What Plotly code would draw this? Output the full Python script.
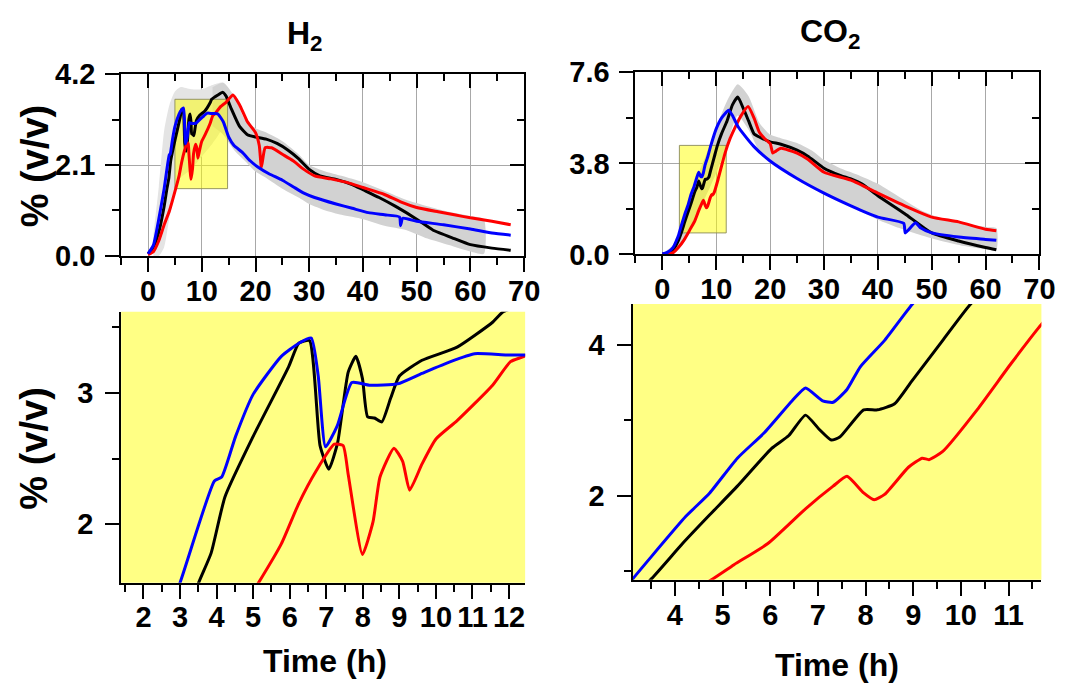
import plotly.graph_objects as go

W, H = 1084, 695

# ---------------- DATA ----------------
# H2 (% v/v) vs time (h)
h2_black_t = [0, 1, 2, 3, 3.51, 3.85, 4.23, 5.0, 5.97, 6.25, 6.54, 6.83, 7.07, 7.31, 7.6, 7.81, 7.99, 8.13, 8.32, 8.52, 8.76, 9.0, 9.62, 10.58, 11.55, 11.84, 13, 13.9, 14.5, 15.5, 17, 18.5, 20, 22, 24, 26, 28, 30, 32, 35, 38, 40, 43, 46, 50, 53, 57, 60, 64, 67.5]
h2_black_v = [0.05, 0.2, 0.55, 1.15, 1.555, 1.78, 2.21, 2.67, 3.2, 3.38, 3.4, 2.6, 2.42, 2.62, 3.16, 3.28, 3.11, 2.82, 2.81, 2.78, 2.96, 3.13, 3.25, 3.35, 3.54, 3.62, 3.72, 3.78, 3.7, 3.4, 3.0, 2.8, 2.75, 2.7, 2.6, 2.45, 2.25, 2.0, 1.85, 1.77, 1.65, 1.53, 1.35, 1.15, 0.85, 0.6, 0.4, 0.26, 0.18, 0.13]

h2_blue_t = [0, 1, 2, 3.0, 3.94, 4.14, 4.52, 5.0, 5.77, 6.25, 6.59, 6.78, 6.98, 7.3, 7.7, 8.18, 8.95, 9.62, 10.4, 11.06, 11.93, 12.4, 13, 14, 15, 16, 17.5, 19, 20.5, 22.5, 25, 27, 29, 31, 35, 38, 41, 44, 46.8, 47, 47.4, 50, 55, 60, 64, 67.5]
h2_blue_v = [0.05, 0.25, 0.85, 1.555, 2.33, 2.36, 2.67, 2.99, 3.28, 3.38, 3.42, 3.13, 2.59, 2.75, 3.08, 3.06, 3.07, 3.15, 3.24, 3.3, 3.29, 3.29, 3.28, 3.1, 2.75, 2.55, 2.4, 2.2, 2.05, 1.9, 1.75, 1.6, 1.45, 1.35, 1.2, 1.1, 1.0, 0.95, 0.9, 0.7, 0.87, 0.8, 0.72, 0.62, 0.53, 0.48]

h2_red_t = [0, 1, 2, 3, 4, 5.15, 5.77, 6.25, 6.73, 7.22, 7.46, 7.6, 7.99, 8.28, 8.47, 8.85, 9.09, 9.28, 9.62, 10.0, 10.58, 11.55, 12.04, 12.41, 13.5, 14.5, 15.8, 17, 18.5, 20, 20.7, 21.1, 21.8, 23, 25, 27, 29, 31, 34, 37, 40, 44, 47, 50, 54, 57, 60, 64, 67.5]
h2_red_v = [0.03, 0.1, 0.35, 0.72, 1.05, 1.555, 1.85, 2.16, 2.41, 2.61, 2.6, 2.38, 1.77, 2.02, 2.36, 2.58, 2.48, 2.26, 2.46, 2.65, 2.79, 3.06, 3.24, 3.28, 3.45, 3.55, 3.72, 3.5, 3.1, 2.85, 2.55, 2.05, 2.5, 2.5, 2.35, 2.2, 2.0, 1.85, 1.78, 1.7, 1.58, 1.42, 1.25, 1.12, 1.02, 0.95, 0.88, 0.8, 0.72]

# early, noisy spread of replicates (light) and later mean +/- SD band
h2_noise_t = [1, 2, 3, 4, 5, 6, 8, 10, 12, 14]
h2_noise_hi = [0.5, 1.6, 2.9, 3.5, 3.8, 3.9, 3.85, 3.85, 3.95, 4.0]
h2_noise_lo = [0.0, 0.0, 0.2, 0.9, 1.4, 1.8, 2.0, 2.3, 2.6, 3.0]
h2_band_t = [12, 14, 16, 18, 20, 22, 25, 28, 30, 33, 36, 40, 44, 48, 52, 56, 60, 62.5]
h2_band_hi = [3.9, 4.0, 3.7, 3.15, 2.95, 2.85, 2.65, 2.35, 2.1, 1.95, 1.85, 1.7, 1.5, 1.3, 1.15, 1.02, 0.92, 0.85]
h2_band_lo = [3.0, 2.8, 2.45, 2.2, 1.95, 1.8, 1.55, 1.35, 1.2, 1.05, 0.95, 0.85, 0.7, 0.6, 0.4, 0.25, 0.1, 0.05]

h2_zoom_box_t = [5.0, 14.8]
h2_zoom_box_v = [1.555, 3.62]

# CO2 (% v/v) vs time (h)
co2_black_t = [0, 1, 2, 3, 3.51, 4.16, 4.73, 5.31, 6.03, 6.39, 6.74, 7.03, 7.28, 7.46, 7.96, 8.25, 8.61, 8.97, 9.62, 10.19, 11, 12, 13, 14, 15, 16, 17, 18, 20, 22, 25, 27, 30, 33, 35, 37, 40, 45, 50, 55, 60, 62]
co2_black_v = [0.02, 0.05, 0.2, 0.6, 0.905, 1.37, 1.75, 2.13, 2.63, 2.8, 3.07, 2.88, 2.74, 2.78, 3.14, 3.14, 3.22, 3.52, 4.06, 4.53, 5.05, 5.57, 6.24, 6.57, 6.1, 5.57, 5.04, 4.9, 4.7, 4.6, 4.35, 4.1, 3.6, 3.3, 3.15, 2.95, 2.45, 1.7, 0.9, 0.56, 0.29, 0.2]

co2_blue_t = [0, 1, 2, 3, 3.12, 3.51, 4.23, 4.73, 5.31, 5.88, 6.46, 6.74, 7.1, 7.32, 7.61, 7.89, 8.4, 8.97, 10, 11, 12.3, 13, 14, 15, 17, 20, 25, 30, 35, 40, 44.8, 45.1, 47, 48, 50, 55, 60, 62]
co2_blue_v = [0.02, 0.1, 0.3, 0.8, 0.905, 1.2, 1.73, 2.04, 2.5, 2.84, 3.26, 3.43, 3.26, 3.24, 3.41, 3.71, 4.06, 4.53, 5.25, 5.7, 6.02, 5.8, 5.35, 5.04, 4.5, 3.9, 3.17, 2.56, 2.03, 1.56, 1.3, 0.9, 1.32, 1.1, 0.9, 0.73, 0.63, 0.59]

co2_red_t = [0, 1, 2, 3, 4, 4.8, 5.24, 5.95, 6.74, 7.32, 7.61, 7.96, 8.18, 8.4, 8.9, 9.19, 9.33, 9.62, 10.34, 11.05, 11.69, 12.5, 13.5, 14.5, 15.9, 17, 18, 19, 20, 20.5, 21, 22, 25, 27, 30, 35, 40, 45, 50, 55, 60, 62]
co2_red_v = [0.0, 0.02, 0.08, 0.3, 0.6, 0.905, 1.09, 1.37, 1.83, 2.13, 2.26, 2.04, 1.95, 2.02, 2.38, 2.5, 2.48, 2.59, 3.14, 3.75, 4.27, 4.8, 5.3, 5.75, 6.17, 5.7, 5.1, 4.83, 4.63, 4.23, 4.3, 4.43, 4.23, 3.97, 3.43, 3.1, 2.56, 2.03, 1.56, 1.36, 1.05, 0.99]

co2_band_t = [0, 2, 4, 6, 8, 10, 12, 14, 16, 18, 20, 22, 25, 28, 30, 33, 36, 40, 44, 48, 52, 56, 60, 62]
co2_band_hi = [0.05, 0.4, 1.6, 3.0, 4.1, 5.3, 6.4, 7.1, 6.6, 5.5, 5.0, 4.85, 4.65, 4.3, 3.95, 3.6, 3.35, 2.95, 2.4, 1.85, 1.5, 1.3, 1.15, 1.1]
co2_band_lo = [0.0, 0.0, 0.5, 1.5, 2.4, 3.4, 4.6, 5.8, 5.2, 4.3, 3.85, 3.6, 3.2, 2.75, 2.5, 2.2, 1.9, 1.45, 1.1, 0.8, 0.55, 0.35, 0.22, 0.2]

co2_zoom_box_t = [3.15, 11.85]
co2_zoom_box_v = [0.9, 4.55]

# axis ticks / labels
top_x_range = [-5, 70]
top_xticks = [0, 10, 20, 30, 40, 50, 60, 70]
h2_top_yticks = [0.0, 2.1, 4.2]
co2_top_yticks = [0.0, 3.8, 7.6]
h2_zoom_xrange = [1.39, 12.44]
h2_zoom_yrange = [1.555, 3.62]
h2_zoom_xticks = [2, 3, 4, 5, 6, 7, 8, 9, 10, 11, 12]
h2_zoom_yticks = [2, 3]
co2_zoom_xrange = [3.11, 11.69]
co2_zoom_yrange = [0.89, 4.54]
co2_zoom_xticks = [4, 5, 6, 7, 8, 9, 10, 11]
co2_zoom_yticks = [2, 4]

# ---------------- STYLE ----------------
FONT = "Liberation Sans, Arial, sans-serif"
YELLOW = "#FFFF84"
GRID = "#A8A8A8"
BAND = "#D2D2D2"
NOISE = "#E4E4E4"
LW = 3
XSTAND = -6


def dom_x(a, b):
    return [a / W, b / W]


def dom_y(top, bottom):
    return [1 - bottom / H, 1 - top / H]


def bold(vals, fmt="%g"):
    return ["<b>" + (fmt % v) + "</b>" for v in vals]


fig = go.Figure()


def add_series(xa, ya, t_b, v_b, t_r, v_r, t_u, v_u):
    for t, v, c in ((t_b, v_b, "black"), (t_r, v_r, "#FF0000"), (t_u, v_u, "#0000FF")):
        fig.add_trace(go.Scatter(x=t, y=v, mode="lines",
                                 line=dict(color=c, width=LW, shape="spline", smoothing=0.5),
                                 xaxis=xa, yaxis=ya, showlegend=False, hoverinfo="skip"))


def add_band(xa, ya, t, lo, hi, color):
    fig.add_trace(go.Scatter(x=t + t[::-1], y=hi + lo[::-1], fill="toself", fillcolor=color,
                             line=dict(width=0, shape="spline", smoothing=0.6), mode="lines",
                             xaxis=xa, yaxis=ya, showlegend=False, hoverinfo="skip"))


def add_box(xa, ya, bt, bv):
    fig.add_trace(go.Scatter(x=[bt[0], bt[1], bt[1], bt[0], bt[0]],
                             y=[bv[0], bv[0], bv[1], bv[1], bv[0]],
                             fill="toself", fillcolor="rgba(255,255,0,0.5)",
                             line=dict(color="rgba(140,140,90,0.9)", width=1), mode="lines",
                             xaxis=xa, yaxis=ya, showlegend=False, hoverinfo="skip"))


# top-left H2
add_band("x", "y", h2_noise_t, h2_noise_lo, h2_noise_hi, NOISE)
add_band("x", "y", h2_band_t, h2_band_lo, h2_band_hi, BAND)
add_box("x", "y", h2_zoom_box_t, h2_zoom_box_v)
add_series("x", "y", h2_black_t, h2_black_v, h2_red_t, h2_red_v, h2_blue_t, h2_blue_v)
# top-right CO2
add_band("x2", "y2", co2_band_t, co2_band_lo, co2_band_hi, BAND)
add_box("x2", "y2", co2_zoom_box_t, co2_zoom_box_v)
add_series("x2", "y2", co2_black_t, co2_black_v, co2_red_t, co2_red_v, co2_blue_t, co2_blue_v)
# bottom-left zoom H2
add_series("x3", "y3", h2_black_t, h2_black_v, h2_red_t, h2_red_v, h2_blue_t, h2_blue_v)
# bottom-right zoom CO2
add_series("x4", "y4", co2_black_t, co2_black_v, co2_red_t, co2_red_v, co2_blue_t, co2_blue_v)

# empty traces so overlay tick axes are created
for xa, ya in (("x5", "y"), ("x", "y5"), ("x6", "y2"), ("x2", "y6")):
    fig.add_trace(go.Scatter(x=[None], y=[None], xaxis=xa, yaxis=ya, showlegend=False, hoverinfo="skip"))

tickfont = dict(family=FONT, size=29, color="black")

common = dict(showline=True, linecolor="black", linewidth=2, ticks="outside", tickwidth=2,
              ticklen=14, tickcolor="black", zeroline=False, tickfont=tickfont)


def minor_out(**kw):
    return dict(ticks="outside", ticklen=7, tickwidth=2, tickcolor="black", showgrid=False, **kw)


def minor_in(**kw):
    return dict(ticks="inside", ticklen=7, tickwidth=2, tickcolor="black", showgrid=False, **kw)


def mids(v):
    return [(a + b) / 2 for a, b in zip(v[:-1], v[1:])]


def top_axes(xd, yd, yticks, xname, yname):
    xa = dict(common, domain=xd, range=top_x_range, tickvals=top_xticks, ticktext=bold(top_xticks),
              mirror=True, showgrid=True, gridcolor=GRID, gridwidth=1, ticklabelstandoff=XSTAND,
              minor=minor_out(dtick=5, tick0=0), anchor=yname)
    ya = dict(common, domain=yd, range=[yticks[0], yticks[-1]], tickvals=yticks,
              ticktext=bold(yticks, "%.1f"), mirror=True, showgrid=True, gridcolor=GRID,
              gridwidth=1, ticklabelstandoff=4, minor=minor_out(tickvals=mids(yticks)), anchor=xname)
    return xa, ya


def top_overlays(xname, yname, yticks):
    xo = dict(overlaying=xname, side="top", anchor=yname, range=top_x_range, tickvals=top_xticks,
              ticks="inside", ticklen=14, tickwidth=2, tickcolor="black", showticklabels=False,
              showgrid=False, showline=False, zeroline=False, minor=minor_in(dtick=5, tick0=0))
    yo = dict(overlaying=yname, side="right", anchor=xname, range=[yticks[0], yticks[-1]],
              tickvals=yticks, ticks="inside", ticklen=14, tickwidth=2, tickcolor="black",
              showticklabels=False, showgrid=False, showline=False, zeroline=False,
              minor=minor_in(tickvals=mids(yticks)))
    return xo, yo


x1, y1 = top_axes(dom_x(123, 532), dom_y(61, 251.5), h2_top_yticks, "x", "y")
x2, y2 = top_axes(dom_x(645, 1055), dom_y(59, 250), co2_top_yticks, "x2", "y2")
x5, y5 = top_overlays("x", "y", h2_top_yticks)
x6, y6 = top_overlays("x2", "y2", co2_top_yticks)

x3 = dict(common, domain=dom_x(123, 533), range=h2_zoom_xrange, tickvals=h2_zoom_xticks,
          ticktext=bold(h2_zoom_xticks), anchor="y3", showgrid=False, ticklabelstandoff=XSTAND,
          minor=minor_out(dtick=0.5, tick0=0))
y3 = dict(common, domain=dom_y(310, 594), range=h2_zoom_yrange, tickvals=h2_zoom_yticks,
          ticktext=bold(h2_zoom_yticks), anchor="x3", showgrid=False, ticklabelstandoff=6,
          minor=minor_out(dtick=0.5, tick0=0))
x4 = dict(common, domain=dom_x(642, 1057), range=co2_zoom_xrange, tickvals=co2_zoom_xticks,
          ticktext=bold(co2_zoom_xticks), anchor="y4", showgrid=False, ticklabelstandoff=XSTAND,
          minor=minor_out(dtick=0.5, tick0=0))
y4 = dict(common, domain=dom_y(302, 591), range=co2_zoom_yrange, tickvals=co2_zoom_yticks,
          ticktext=bold(co2_zoom_yticks), anchor="x4", showgrid=False, ticklabelstandoff=6,
          minor=minor_out(dtick=1, tick0=0))

fig.update_layout(
    width=W, height=H, margin=dict(l=0, r=0, t=0, b=0),
    paper_bgcolor="white", plot_bgcolor="white", showlegend=False,
    xaxis=x1, yaxis=y1, xaxis2=x2, yaxis2=y2, xaxis3=x3, yaxis3=y3, xaxis4=x4, yaxis4=y4,
    xaxis5=x5, yaxis5=y5, xaxis6=x6, yaxis6=y6,
)

# yellow backgrounds of zoom panels
for xr, yr in (("x3", "y3"), ("x4", "y4")):
    fig.add_shape(type="rect", xref=xr + " domain", yref=yr + " domain", x0=0, x1=1, y0=0, y1=1,
                  fillcolor=YELLOW, line=dict(width=0), layer="below")


def ann(text, x, y, size, angle=0):
    fig.add_annotation(text=text, x=x / W, y=1 - y / H, xref="paper", yref="paper",
                       showarrow=False, textangle=angle, xanchor="center", yanchor="middle",
                       font=dict(family=FONT, size=size, color="black"))


ann("<b>H<sub>2</sub></b>", 310, 20, 32)
ann("<b>CO<sub>2</sub></b>", 842, 18, 32)
ann("<b>% (v/v)</b>", 35, 157, 38, -90)
ann("<b>% (v/v)</b>", 35, 453, 38, -90)
ann("<b>Time (h)</b>", 330, 676, 32)
ann("<b>Time (h)</b>", 850, 680, 32)

fig.write_html("out.html")
